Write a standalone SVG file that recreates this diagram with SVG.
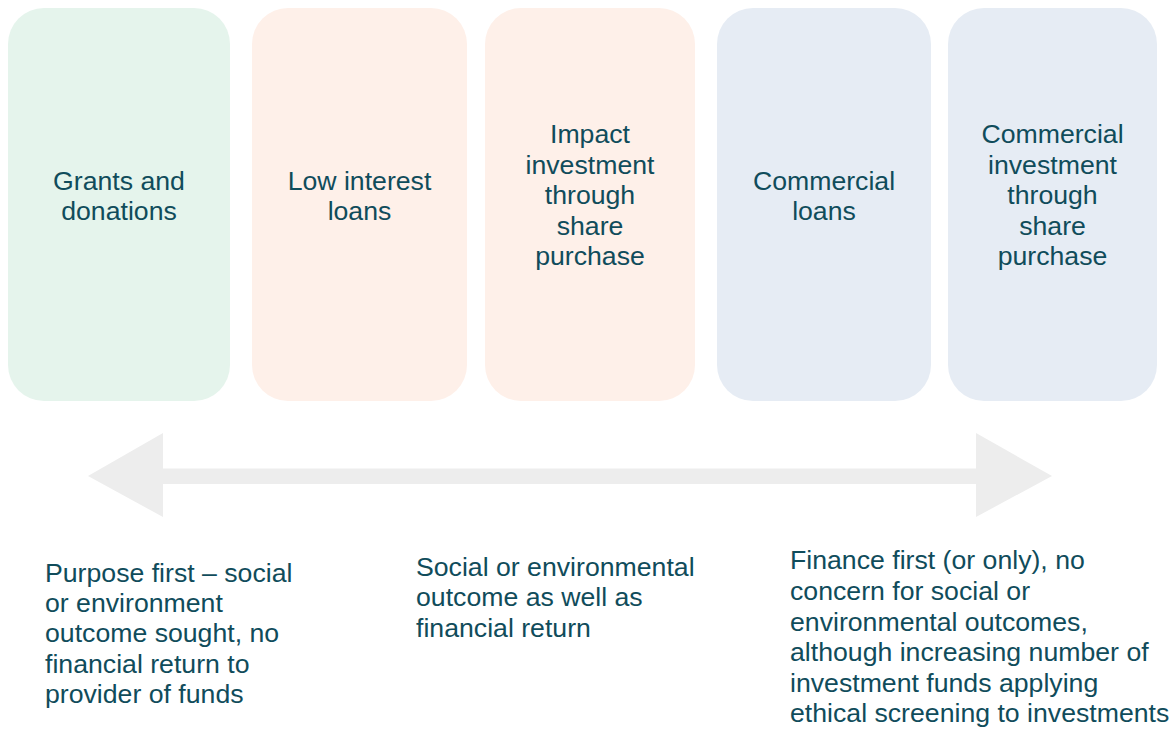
<svg xmlns="http://www.w3.org/2000/svg" width="1176" height="729" viewBox="0 0 1176 729">
<style>
  .box { stroke: none; }
  .green { fill: #E5F4EC; }
  .peach { fill: #FEF0E9; }
  .blue { fill: #E6ECF4; }
  text { font-family: "Liberation Sans", Arial, sans-serif; font-size: 26.67px; fill: #104C5B; }
  .c { text-anchor: middle; }
</style>
<rect width="1176" height="729" fill="#FFFFFF"/>
<g id="node-grants">
  <rect class="box green" x="8" y="8" width="222" height="393" rx="36" ry="36"/>
  <text class="c" x="119" y="190">Grants and</text>
  <text class="c" x="119" y="220">donations</text>
</g>
<g id="node-low-interest">
  <rect class="box peach" x="252" y="8" width="215" height="393" rx="36" ry="36"/>
  <text class="c" x="359.5" y="190">Low interest</text>
  <text class="c" x="359.5" y="220">loans</text>
</g>
<g id="node-impact">
  <rect class="box peach" x="485" y="8" width="210" height="393" rx="36" ry="36"/>
  <text class="c" x="590" y="143">Impact</text>
  <text class="c" x="590" y="174">investment</text>
  <text class="c" x="590" y="204">through</text>
  <text class="c" x="590" y="235">share</text>
  <text class="c" x="590" y="265">purchase</text>
</g>
<g id="node-commercial-loans">
  <rect class="box blue" x="717" y="8" width="214" height="393" rx="36" ry="36"/>
  <text class="c" x="824" y="190">Commercial</text>
  <text class="c" x="824" y="220">loans</text>
</g>
<g id="node-commercial-investment">
  <rect class="box blue" x="948" y="8" width="209" height="393" rx="36" ry="36"/>
  <text class="c" x="1052.5" y="143">Commercial</text>
  <text class="c" x="1052.5" y="174">investment</text>
  <text class="c" x="1052.5" y="204">through</text>
  <text class="c" x="1052.5" y="235">share</text>
  <text class="c" x="1052.5" y="265">purchase</text>
</g>
<g id="connectors">
  <polygon fill="#EDEDED" points="88,476 163,433 163,468.5 976,468.5 976,433 1052,476 976,517 976,484 163,484 163,517"/>
</g>
<g id="label-left">
  <text x="45" y="582">Purpose first – social</text>
  <text x="45" y="612">or environment</text>
  <text x="45" y="642">outcome sought, no</text>
  <text x="45" y="673">financial return to</text>
  <text x="45" y="703">provider of funds</text>
</g>
<g id="label-middle">
  <text x="416" y="576">Social or environmental</text>
  <text x="416" y="606">outcome as well as</text>
  <text x="416" y="637">financial return</text>
</g>
<g id="label-right">
  <text x="790" y="569">Finance first (or only), no</text>
  <text x="790" y="600">concern for social or</text>
  <text x="790" y="631">environmental outcomes,</text>
  <text x="790" y="661">although increasing number of</text>
  <text x="790" y="692">investment funds applying</text>
  <text x="790" y="722">ethical screening to investments</text>
</g>
</svg>
